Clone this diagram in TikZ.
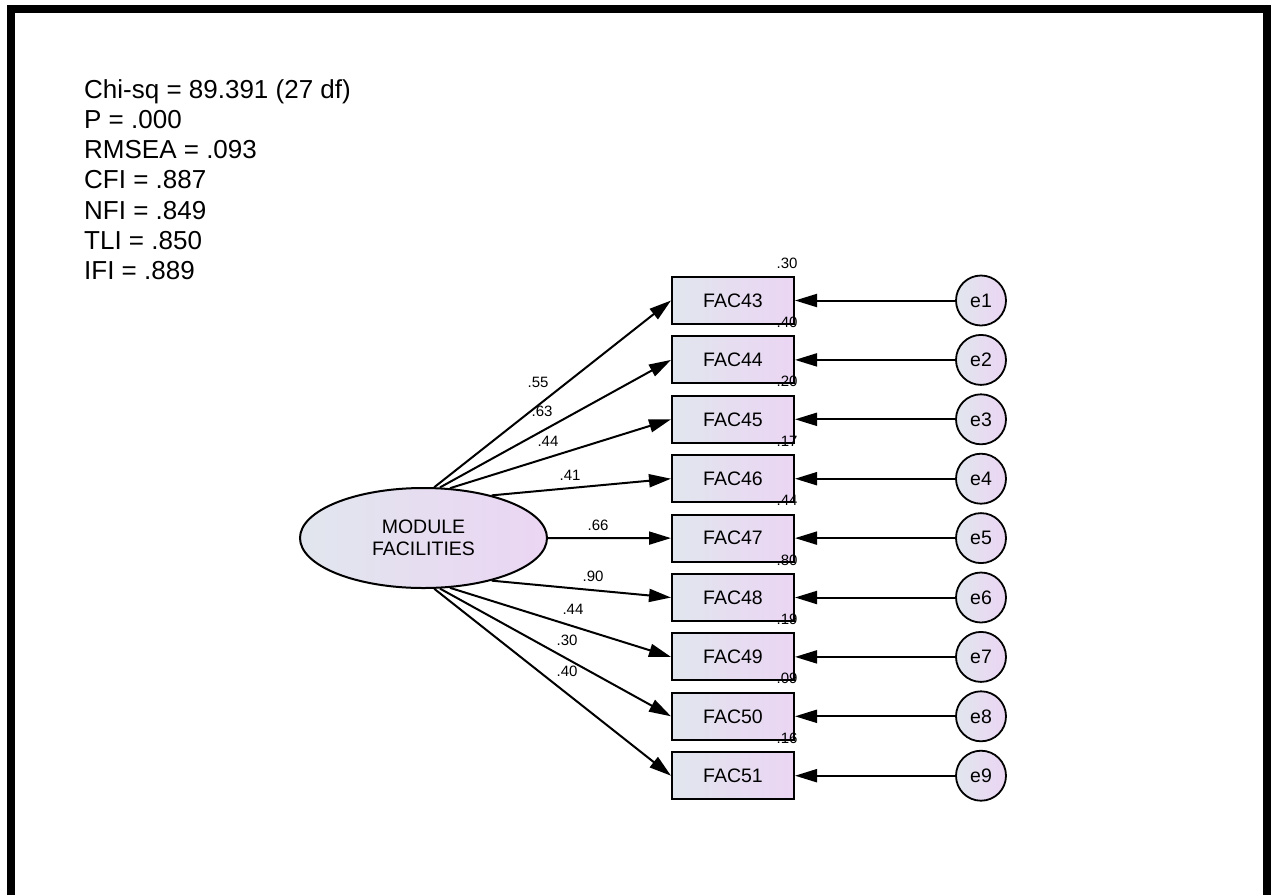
\documentclass[tikz,border=0pt]{standalone}
\usepackage{fontspec}
\setmainfont{Liberation Sans}
\usetikzlibrary{arrows.meta,shapes.geometric}
\definecolor{amosBlue}{HTML}{E1E6EE}
\definecolor{amosLilac}{HTML}{EBD5F3}

\begin{document}
\begin{tikzpicture}[x=1pt,y=-1pt,
    every node/.style={font=\fontsize{19.5}{22}\selectfont},
    obsbox/.style={draw,line width=2pt,left color=amosBlue,right color=amosLilac,
      minimum width=122pt,minimum height=47pt,inner sep=0pt},
    errcirc/.style={circle,draw,line width=1.8pt,left color=amosBlue,right color=amosLilac,
      minimum size=50pt,inner sep=0pt},
    latent/.style={ellipse,draw,line width=2pt,left color=amosBlue,right color=amosLilac,
      minimum width=247pt,minimum height=100pt,inner sep=0pt,align=center},
    path/.style={line width=2pt,-{Triangle[length=22pt,width=13pt]}},
    est/.style={font=\fontsize{15}{17}\selectfont,inner sep=0pt},
    fitline/.style={anchor=base west,inner sep=0pt,font=\fontsize{26}{30}\selectfont}]
  \useasboundingbox (0,0) rectangle (1272,895);
  \draw[line width=8pt] (11,895) -- (11,9) -- (1266.5,9) -- (1266.5,895);

  \foreach \txt [count=\i] in {Chi-sq = 89.391 (27 df),P = .000,RMSEA = .093,
      CFI = .887,NFI = .849,TLI = .850,IFI = .889}
    \node[fitline] (fit\i) at (84,{98+30.3*(\i-1)}) {\txt};

  \node[latent] (mf) at (423.5,538) {MODULE\\FACILITIES};

  \foreach \n/\ang/\ld/\lx/\ly/\rsq [count=\i] in {43/78/.55/538/382/.30,
      44/72/.63/542/411/.40,45/62/.44/548/441/.20,46/32/.41/570/475/.17,
      47/0/.66/598/525/.44,48/-32/.90/593/576/.80,49/-62/.44/573/609/.19,
      50/-72/.30/567/640/.09,51/-78/.40/567/671/.16}{
    \node[obsbox] (fac\n) at (733,{300.5+59.4*(\i-1)}) {FAC\n};
    \node[errcirc] (e\i) at (981,{300.5+59.4*(\i-1)}) {e\i};
    \draw[path] (mf.\ang) -- (fac\n.west);
    \draw[path] (e\i) -- (fac\n);
    \node[est] (ld\n) at (\lx,\ly) {\ld};
    \node[est] (r\n) at (787,{263+59.4*(\i-1)}) {\rsq};
  }
\end{tikzpicture}
\end{document}
